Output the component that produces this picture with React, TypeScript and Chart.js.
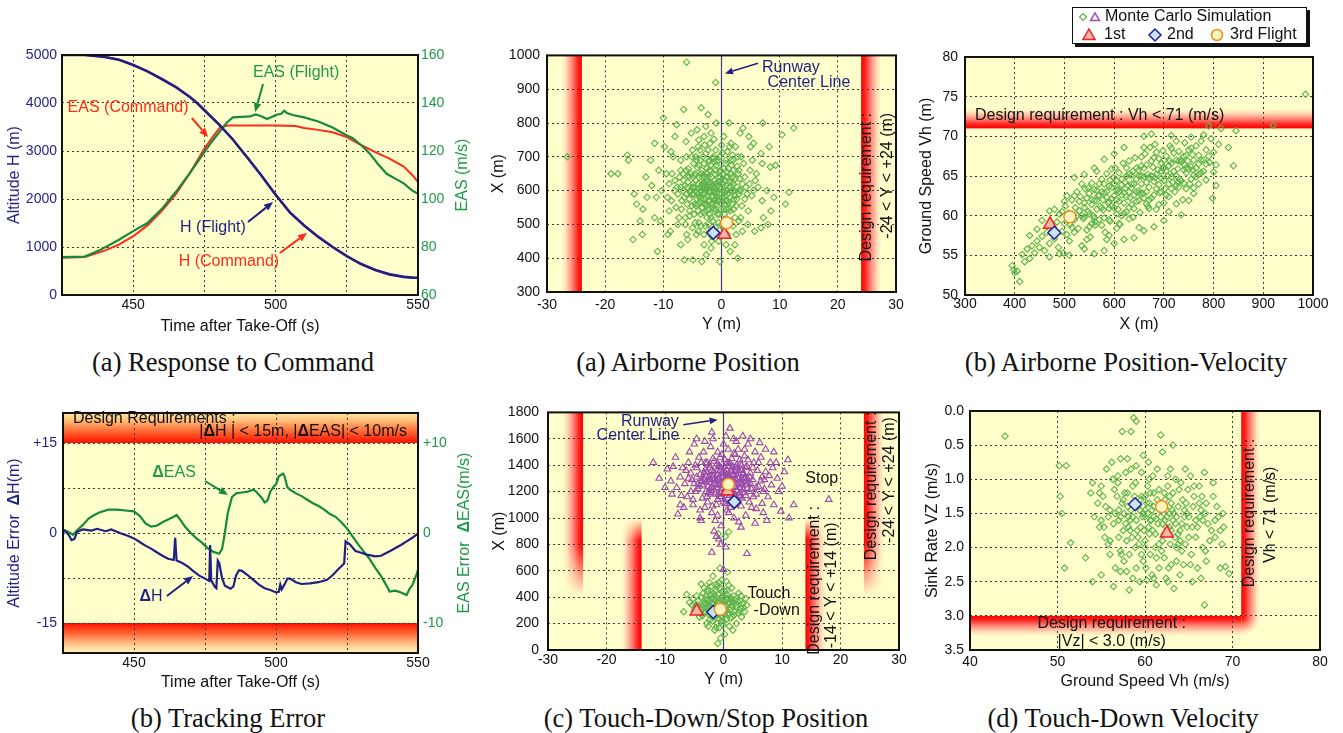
import React, { useEffect, useRef } from 'react';
import { Chart, registerables } from 'chart.js';
Chart.register(...registerables);

const SANS = '"Liberation Sans", Arial, Helvetica, sans-serif';
const SERIF = '"Liberation Serif", "Times New Roman", serif';
const BG = '#ffffcc';
const BG0 = 'rgba(255,255,204,0)';
const NAVY = '#1f1f85';
const LINE_GREEN = '#17893a';
const TXT_GREEN = '#1f9a48';
const RED = '#ff2a1a';
const MC_GREEN = '#5eb44c';
const MC_PURPLE = '#9a48ae';

// ---------- (a) Response to Command ----------
const RESP_T_H = [425, 433, 440, 445, 450, 455, 460, 465, 470, 472.4, 475, 480, 485, 488.2, 490, 495, 500, 501.2, 505, 510, 515, 520, 525, 530, 535, 540, 545, 548, 550];
const RESP_H_FLIGHT = [5000, 5000, 4960, 4900, 4790, 4660, 4500, 4330, 4120, 4000, 3850, 3560, 3240, 3000, 2870, 2490, 2090, 2000, 1720, 1450, 1210, 1000, 810, 645, 520, 430, 378, 362, 358];
const RESP_H_COMMAND = [5000, 5000, 4962, 4903, 4795, 4663, 4505, 4333, 4125, 4003, 3853, 3563, 3243, 3003, 2872, 2493, 2093, 2003, 1723, 1452, 1212, 1002, 812, 647, 522, 432, 380, 364, 360];
const RESP_T_EAS_CMD = [425, 433, 440, 445, 450, 455, 460, 465, 470, 475, 478, 480.5, 483, 490, 500, 507, 510, 515, 520, 525, 530, 535, 540, 545, 548, 550];
const RESP_EAS_CMD = [75.5, 75.8, 78.5, 81, 84.5, 89, 95, 102, 111, 121, 126, 129.8, 130.6, 130.6, 130.6, 130.4, 129.6, 128.8, 127.8, 125.8, 122.5, 119.5, 116.8, 113.5, 110, 107];
const RESP_T_EAS_FLT = [425, 433, 438, 445, 450, 455, 460, 465, 470, 475, 478, 481, 483, 485, 488, 491, 493, 495, 497, 499, 500, 502, 503, 504, 506, 510, 515, 520, 525, 527, 530, 533, 536, 539, 542, 545, 548, 550];
const RESP_EAS_FLT = [75.8, 76, 78.5, 83, 86.6, 90, 95.8, 103, 111, 119.5, 124.5, 129, 132, 134, 134.2, 134.4, 135.2, 134.5, 133.3, 134.4, 135, 135.5, 136.8, 135.8, 135, 134, 132.3, 129.8, 126.5, 125.4, 122.5, 119, 114.5, 110.5, 108.5, 106.5, 103.5, 102.2];

// ---------- (b) Tracking Error ----------
const ERR_T_H = [425, 426, 427, 428, 429, 430, 432, 435, 437, 440, 442, 445, 448, 450, 452, 454, 456, 458, 460, 462, 464, 464.5, 465, 467, 469, 471, 473, 475, 476.5, 476.8, 477.2, 478.5, 479, 479.5, 480, 481, 482, 484, 485, 486, 487, 488, 490, 492, 494, 496, 498, 500, 501, 501.5, 502, 503, 504, 505, 507, 509, 512, 515, 518, 520, 522, 524, 524.5, 526, 528, 530, 532, 535, 537, 539, 541, 544, 546, 548, 550];
const ERR_DH = [0.5, 0.2, -0.3, -1.2, -1.0, 0.2, 0.6, 0.4, 0.7, 0.3, 0.6, 0.0, -0.5, -0.9, -1.5, -2.1, -2.6, -3.2, -3.8, -4.3, -4.5, -0.8, -4.6, -5.0, -5.6, -6.4, -7.1, -7.6, -8.0, -2.0, -7.9, -9.0, -9.2, -4.6, -5.0, -7.5, -8.8, -9.3, -8.9, -7.0, -6.2, -6.3, -7.0, -7.8, -8.6, -9.2, -9.5, -9.9, -9.8, -8.6, -9.4, -8.6, -7.6, -7.6, -8.2, -8.5, -8.4, -8.2, -7.8, -7.0, -6.0, -5.1, -1.4, -1.9, -3.0, -3.3, -3.6, -3.9, -3.8, -3.3, -2.8, -2.0, -1.4, -0.8, -0.1];
const ERR_T_EAS = [425, 427, 428.5, 430, 432, 434, 436, 438, 441, 444, 447, 450, 452, 454, 456, 458, 460, 462, 464, 465, 466, 468, 470, 472, 474, 476, 478, 480, 481, 482, 483, 484.5, 486, 488, 490, 492, 493, 495, 496, 497, 498, 499, 500, 501, 502.5, 503, 504, 505, 507, 509, 511, 513, 515, 517, 519, 521, 523, 525, 527, 529, 531, 533, 535, 537, 539, 540, 542, 544, 546, 547, 548, 549.5, 550];
const ERR_DEAS = [0.4, 0.1, -0.2, 0.3, 0.9, 1.6, 2.0, 2.3, 2.6, 2.6, 2.5, 2.4, 1.9, 1.1, 0.7, 0.8, 1.2, 1.5, 1.8, 2.0, 1.6, 0.7, 0.0, -0.6, -1.1, -1.7, -2.1, -2.3, -1.8, 0.0, 2.2, 4.0, 4.4, 4.5, 4.6, 4.8, 4.6, 3.9, 3.4, 3.6, 4.6, 5.1, 5.4, 6.3, 6.6, 6.3, 5.1, 4.8, 4.4, 4.1, 3.7, 3.3, 3.0, 2.6, 2.1, 1.8, 1.2, 0.5, -0.4, -1.3, -2.1, -2.9, -3.9, -4.8, -5.9, -6.5, -6.4, -6.6, -6.9, -6.2, -5.8, -4.6, -4.1];

// ---------- Monte Carlo clouds: [lateral/x, value] ----------
const AIRBORNE_MC = [
  [-3.2, 612], [-1.5, 585], [0.8, 640], [-4.6, 560], [-2.1, 690], [1.9, 598], [-0.4, 530], [-5.8, 625], [2.7, 672], [-3.9, 505], [-1.1, 648], [0.2, 712], [-6.4, 580], [3.5, 555], [-2.6, 540], [-0.9, 605], [1.2, 565], [-4.1, 668], [-7.2, 640], [4.2, 610],
  [-2.9, 735], [0.5, 595], [-1.8, 520], [-5.1, 700], [2.3, 520], [-3.5, 575], [-0.2, 660], [1.6, 690], [-6.9, 545], [3.1, 635], [-1.3, 752], [-4.8, 610], [0.9, 545], [-2.4, 628], [-8.1, 600], [5.2, 585], [-3.0, 680], [-0.7, 570], [2.0, 620], [-5.5, 525],
  [-1.9, 660], [1.4, 730], [-4.3, 595], [-2.2, 500], [0.1, 580], [3.8, 680], [-6.1, 660], [-3.7, 720], [4.6, 540], [-0.5, 625], [-2.7, 560], [1.7, 650], [-7.6, 610], [-4.0, 540], [2.6, 575], [-1.4, 700], [0.3, 490], [-5.3, 650], [3.0, 600], [-2.0, 595],
  [-3.3, 640], [0.7, 680], [-6.6, 600], [5.8, 630], [-1.0, 545], [-4.4, 700], [2.1, 545], [-2.8, 610], [-0.1, 630], [1.0, 600], [-8.6, 570], [-3.6, 530], [4.9, 660], [-5.9, 560], [-1.6, 615], [0.4, 760], [-2.5, 665], [3.3, 520], [-4.9, 640], [-0.8, 685],
  [-7.0, 690], [1.9, 705], [-3.1, 590], [-1.2, 570], [2.9, 650], [-5.0, 590], [0.6, 515], [-2.3, 720], [4.0, 575], [-6.2, 520], [-9.5, 650], [-10.3, 600], [-11.2, 580], [-12.0, 615], [-9.0, 540], [-8.3, 700], [-10.8, 660], [-13.5, 545], [-12.8, 580], [-11.5, 520],
  [-14.6, 560], [-15.0, 590], [-13.0, 640], [-9.8, 730], [-8.0, 760], [-7.5, 500], [-8.8, 480], [-10.5, 510], [-15.2, 455], [-13.6, 470], [-11.0, 420], [-9.2, 470], [-7.0, 440], [-5.8, 455], [-4.3, 470], [-3.0, 440], [-1.7, 465], [-2.6, 410], [-4.9, 395], [-6.4, 395],
  [-3.4, 390], [-0.3, 390], [1.5, 420], [2.3, 440], [2.8, 400], [1.0, 470], [3.6, 480], [4.5, 500], [5.7, 480], [6.8, 490], [7.2, 520], [8.5, 540], [8.0, 500], [7.0, 570], [6.3, 610], [7.8, 600], [9.0, 580], [11.0, 560], [11.6, 595], [8.4, 670],
  [7.0, 680], [9.3, 675], [8.2, 730], [6.8, 710], [5.5, 740], [4.7, 760], [3.2, 770], [5.0, 730], [10.4, 765], [12.4, 785], [7.1, 800], [3.7, 785], [1.3, 800], [-0.9, 800], [-2.3, 825], [-3.5, 845], [-6.5, 840], [-10.0, 815], [-7.7, 795], [-5.2, 770],
  [-4.2, 780], [-2.7, 790], [-3.9, 750], [-6.1, 745], [-8.7, 715], [-16.0, 690], [-16.2, 705], [-17.8, 650], [-19.0, 650], [-26.5, 700], [-6.0, 980], [-1.0, 920], [-14.0, 510], [-12.2, 690], [-11.5, 740], [6.0, 650], [5.3, 690], [-0.5, 450], [0.8, 440], [-1.8, 430],
];
const AIRBORNE_MC_CORE = [
  [-2.0, 600], [-1.0, 620], [0.0, 590], [-3.0, 560], [1.0, 640], [-4.0, 620], [-2.5, 650], [-1.5, 560], [0.5, 610], [-3.5, 600], [1.5, 580], [-5.0, 610], [-0.5, 570], [-2.8, 590], [2.2, 600], [-4.5, 650], [-1.2, 630], [0.8, 570], [-3.8, 640], [-6.0, 590],
  [-2.2, 545], [-0.3, 655], [1.8, 625], [-4.2, 575], [-1.8, 675], [0.4, 545], [-3.2, 700], [2.5, 555], [-5.5, 575], [-0.8, 595], [-2.6, 615], [1.2, 665], [-4.7, 530], [-1.4, 600], [0.2, 620], [-3.4, 660], [3.0, 590], [-6.5, 630], [-2.0, 570], [-0.6, 640],
  [-1.6, 580], [0.9, 600], [-3.7, 610], [-2.3, 640], [1.4, 610], [-5.2, 600], [-0.2, 605], [-2.9, 625], [2.0, 660], [-4.0, 590], [-1.0, 590], [0.6, 630], [-3.0, 620], [-1.9, 610], [-0.9, 560], [1.9, 560], [-4.4, 555], [-2.5, 585], [0.0, 560], [-3.3, 550],
  [-6.8, 570], [-5.6, 640], [-7.5, 590], [3.6, 620], [4.4, 590], [2.8, 700], [-1.0, 720], [-2.0, 740], [-3.0, 760], [0.0, 735], [1.0, 715], [-4.0, 730], [-5.0, 720], [-6.0, 700], [2.0, 690], [3.0, 660], [4.0, 640], [-7.0, 660], [-8.0, 630], [-7.8, 550],
  [-6.2, 500], [-5.0, 490], [-4.0, 480], [-3.0, 470], [-2.0, 480], [-1.0, 490], [0.0, 500], [1.0, 505], [2.0, 495], [3.0, 510], [-2.5, 520], [-1.5, 510], [-0.5, 505], [0.5, 530], [1.5, 540], [-3.5, 495], [-4.5, 505], [-5.5, 540], [2.5, 470], [-6.0, 470],
  [-1.3, 685], [-0.4, 700], [0.8, 690], [-2.7, 710], [-3.6, 690], [1.6, 740], [-1.8, 770], [2.4, 730], [-4.8, 680], [-5.7, 665], [3.4, 700], [4.8, 620], [5.5, 600], [-9.0, 620], [-8.5, 650], [-9.3, 580], [-7.3, 520], [-0.7, 470], [-1.7, 450], [-2.8, 495],
];
const AIRBORNE_MC_CORE2 = [
  [-2.4, 605], [-1.1, 575], [0.3, 650], [-3.6, 585], [-0.6, 615], [1.1, 590], [-4.9, 620], [-2.1, 660], [-0.1, 545], [-3.1, 535], [0.9, 655], [-1.7, 640], [-4.1, 560], [1.6, 600], [-2.9, 575], [-0.4, 590], [-5.4, 595], [2.4, 635], [-1.4, 545], [-3.9, 675],
  [0.6, 560], [-2.2, 685], [-4.6, 645], [1.3, 545], [-0.9, 675], [-3.3, 620], [2.1, 575], [-5.9, 610], [-1.2, 610], [0.0, 620], [-2.6, 555], [-3.7, 565], [1.7, 675], [-4.3, 690], [-0.3, 575], [-1.9, 625], [2.7, 610], [-5.1, 555], [-2.0, 530], [0.4, 665],
  [-3.0, 645], [-1.5, 695], [0.8, 615], [-4.8, 590], [-2.7, 600], [1.9, 640], [-6.3, 615], [-0.7, 530], [-3.5, 650], [-1.0, 660], [2.3, 585], [-2.3, 570], [-4.4, 630], [0.2, 600], [-1.6, 550], [-5.7, 645], [3.3, 600], [-3.2, 605], [-0.5, 690], [1.4, 625],
  [-7.0, 610], [-6.6, 650], [-2.1, 620], [-1.3, 595], [-3.8, 580], [0.7, 585], [-2.8, 640], [-4.0, 605], [-0.2, 640], [1.0, 570],
];
const VELOCITY_MC = [
  [395, 53.7], [398, 53.2], [400, 52.8], [410, 51.7], [405, 53.0], [415, 55.1], [420, 54.2], [425, 55.8], [430, 54.6], [435, 56.2], [440, 55.3], [445, 56.8], [450, 56.0], [455, 57.4], [460, 55.6], [465, 57.9], [470, 56.5], [475, 58.5], [480, 57.1], [485, 59.2],
  [488, 56.0], [490, 60.2], [495, 58.0], [498, 55.3], [500, 59.0], [502, 61.2], [505, 57.6], [508, 60.3], [510, 56.8], [512, 58.9], [515, 62.0], [518, 59.7], [520, 57.9], [522, 61.0], [525, 63.0], [528, 58.4], [530, 60.6], [532, 62.4], [535, 56.2], [538, 59.6],
  [540, 61.6], [542, 63.4], [545, 58.2], [548, 60.5], [550, 62.8], [552, 57.3], [555, 64.1], [558, 60.0], [560, 61.9], [562, 58.8], [565, 63.2], [568, 62.5], [570, 59.5], [572, 61.2], [575, 64.6], [578, 60.7], [580, 62.9], [582, 57.9], [585, 65.3], [588, 61.6],
  [590, 63.7], [592, 59.3], [595, 62.1], [598, 64.8], [600, 61.0], [602, 66.0], [605, 60.2], [608, 63.3], [610, 65.4], [612, 58.9], [615, 62.6], [618, 66.6], [620, 61.6], [622, 64.2], [625, 60.5], [628, 63.8], [630, 66.9], [632, 62.3], [635, 65.1], [638, 59.8],
  [640, 64.0], [642, 67.3], [645, 61.8], [648, 65.7], [650, 63.1], [652, 60.4], [655, 66.3], [658, 62.8], [660, 64.9], [662, 67.8], [665, 61.5], [668, 65.2], [670, 63.6], [672, 68.6], [675, 62.2], [678, 66.1], [680, 64.3], [682, 69.0], [685, 60.8], [688, 65.8],
  [690, 67.2], [692, 62.9], [695, 64.7], [698, 68.2], [700, 66.0], [702, 63.4], [705, 67.5], [708, 65.0], [710, 62.4], [712, 68.8], [715, 66.6], [718, 64.2], [720, 67.9], [722, 63.0], [725, 69.4], [728, 65.9], [730, 68.1], [732, 64.6], [735, 66.8], [738, 62.0],
  [740, 67.5], [742, 69.2], [745, 65.4], [748, 66.9], [750, 68.3], [752, 64.0], [755, 66.2], [758, 67.7], [760, 65.1], [765, 68.8], [770, 66.5], [775, 69.4], [780, 67.0], [785, 68.3], [790, 71.3], [792, 66.7], [795, 69.7], [800, 68.0], [805, 66.4], [815, 71.0],
  [830, 68.6], [845, 70.7], [840, 66.3], [920, 71.4], [985, 75.3], [760, 62.8], [770, 64.0], [750, 61.9], [735, 60.1], [700, 59.4], [680, 58.6], [660, 58.1], [640, 57.2], [620, 57.0], [600, 56.5], [580, 55.6], [560, 55.2], [540, 55.8], [660, 70.0], [620, 68.6],
  [600, 67.8], [580, 67.1], [560, 66.0], [540, 65.2], [520, 64.8], [500, 61.8], [480, 60.8], [470, 60.6], [455, 59.4], [445, 58.3], [430, 57.5], [470, 54.8], [490, 55.2], [510, 55.0], [590, 57.5], [610, 59.0], [630, 59.6], [650, 58.5], [670, 60.9], [690, 61.4],
  [710, 60.5], [725, 61.5], [745, 63.4], [765, 64.9], [775, 65.4], [785, 64.5], [798, 62.2], [805, 63.8], [810, 69.0], [780, 70.2], [755, 69.9], [715, 70.1], [675, 70.3],
];
const VELOCITY_MC_CORE = [
  [520, 59.5], [530, 61.8], [540, 59.8], [545, 62.2], [550, 60.2], [555, 61.4], [560, 63.3], [565, 60.8], [570, 62.6], [575, 61.0], [580, 64.0], [585, 62.3], [590, 60.9], [595, 63.6], [600, 62.5], [605, 64.4], [610, 61.8], [615, 63.9], [620, 62.9], [625, 65.0],
  [630, 63.0], [635, 61.4], [640, 62.6], [645, 64.6], [650, 61.9], [655, 64.0], [660, 62.2], [665, 66.4], [670, 64.8], [675, 66.9], [680, 62.6], [685, 65.2], [690, 63.9], [695, 66.6], [700, 64.5], [705, 62.6], [710, 66.3], [715, 64.9], [720, 65.6], [725, 63.8],
  [730, 66.9], [735, 64.4], [740, 65.8], [745, 67.6], [750, 65.9], [755, 64.6], [760, 67.0], [765, 66.0], [770, 67.6], [780, 65.6], [560, 59.7], [575, 58.8], [590, 61.8], [605, 62.0], [620, 60.3], [635, 63.5], [650, 65.0], [665, 63.0], [680, 67.3], [695, 63.0],
  [710, 64.0], [725, 67.0], [740, 64.1], [755, 68.5], [770, 65.2], [785, 66.5], [800, 65.5], [520, 62.5], [535, 60.0], [550, 58.6], [565, 65.6], [580, 59.7], [595, 65.9], [610, 63.0], [625, 66.0], [640, 60.9], [655, 67.4], [670, 62.0], [685, 68.0], [700, 61.6],
  [715, 68.5], [730, 63.6], [745, 66.0], [760, 63.5], [775, 67.0], [790, 67.5], [495, 60.5], [505, 62.5], [515, 58.5], [525, 60.0], [535, 64.0], [545, 57.0], [555, 59.0], [570, 64.0], [585, 57.0], [600, 64.0], [615, 60.0], [630, 61.0], [645, 66.0], [660, 68.6],
];
const VELOCITY_MC_CORE2 = [
  [540, 61.0], [555, 62.0], [565, 61.9], [575, 63.0], [585, 63.0], [595, 61.2], [605, 63.2], [615, 64.6], [625, 62.4], [635, 64.0], [645, 63.0], [655, 65.0], [665, 64.2], [675, 65.0], [685, 63.4], [695, 65.6], [705, 65.6], [715, 63.4], [725, 65.0], [735, 67.0],
  [548, 63.5], [562, 59.2], [578, 62.0], [592, 64.5], [608, 60.8], [622, 63.4], [638, 65.6], [652, 62.8], [668, 61.2], [682, 64.8], [698, 66.0], [712, 66.9], [728, 64.2], [742, 66.4], [758, 65.8], [590, 59.5], [605, 58.4], [630, 65.2], [660, 66.0], [700, 67.0],
];
const TOUCHDOWN_MC = [
  [-1.0, 330], [-2.1, 350], [0.3, 310], [-1.6, 290], [0.9, 360], [-2.8, 320], [-0.4, 380], [-1.3, 260], [1.5, 330], [-3.4, 345], [0.1, 405], [-2.0, 395], [-0.8, 240], [1.9, 290], [-3.9, 300], [-1.7, 430], [0.6, 450], [-2.5, 270], [2.4, 370], [-0.2, 285],
  [-4.4, 370], [-1.1, 200], [1.2, 240], [-3.0, 410], [0.4, 340], [-2.3, 230], [2.9, 320], [-0.6, 470], [-1.9, 300], [1.7, 410], [-4.8, 330], [-0.9, 355], [0.8, 270], [-3.6, 260], [3.3, 350], [-1.4, 380], [-2.7, 440], [0.0, 215], [-0.3, 530], [-1.2, 500],
  [0.5, 520], [-2.2, 480], [-1.5, 150], [-0.7, 170], [0.2, 120], [-0.5, 90], [1.0, 180], [-2.9, 200], [-5.2, 390], [-5.8, 360], [-6.3, 420], [-5.0, 300], [-4.1, 250], [3.6, 290], [3.1, 250], [2.6, 430], [4.0, 340], [3.8, 390], [1.4, 470], [-3.3, 470],
  [-3.8, 500], [-6.8, 290], [-1.8, 560], [0.7, 590], [-0.6, 620], [2.2, 200], [1.6, 150], [-1.0, 50], [0.3, 860], [-0.9, 880], [0.9, 895], [-1.7, 350], [-0.5, 310], [0.1, 270], [-2.4, 365], [1.1, 305], [-3.1, 385], [-0.1, 345], [2.0, 350], [-1.5, 410],
  [-2.6, 295], [0.7, 390], [-1.2, 330], [-3.7, 320], [1.3, 380], [-0.8, 425], [-2.0, 255], [2.7, 300], [-4.5, 345], [0.5, 230], [-1.4, 275], [1.8, 265], [-2.9, 350], [-0.3, 440], [3.0, 410], [-3.5, 430], [-0.2, 370], [0.6, 300], [-1.1, 395], [1.4, 340],
  [-1.5, 320], [-0.5, 340], [0.5, 330], [-2.5, 330], [-1.0, 360], [-2.0, 310], [0.0, 300], [-1.2, 280], [-0.3, 400], [-2.8, 380], [1.0, 350], [-1.8, 250], [0.8, 280], [-3.2, 360], [-0.8, 310], [1.6, 360], [-2.2, 420], [-0.2, 250], [-1.6, 390], [0.3, 370],
  [-3.0, 290], [1.2, 400], [-2.4, 340], [-0.6, 360], [0.6, 420], [-1.4, 450], [-3.8, 400], [2.2, 330], [-0.9, 270], [-2.1, 270], [1.9, 380], [-4.2, 320], [0.1, 450], [-1.1, 480], [2.5, 280], [-3.3, 280], [-0.4, 220], [-1.9, 220], [1.5, 250], [-2.7, 460],
  [-5.4, 340], [-4.6, 410], [2.9, 370], [3.4, 320], [-0.7, 510], [-2.4, 510], [0.9, 490], [-1.3, 170], [-0.1, 190], [-2.6, 180],
];
const STOP_MC = [
  [1.0, 1270], [-1.5, 1300], [3.2, 1250], [-3.0, 1320], [0.2, 1200], [4.5, 1310], [-2.2, 1180], [2.1, 1380], [-4.4, 1260], [1.6, 1150], [5.6, 1230], [-0.8, 1400], [3.8, 1170], [-5.6, 1340], [0.5, 1330], [2.8, 1440], [-1.2, 1230], [6.4, 1280], [-3.6, 1150], [1.9, 1100],
  [-6.6, 1260], [4.0, 1390], [-0.3, 1480], [3.0, 1090], [-2.8, 1420], [7.2, 1350], [-4.8, 1200], [0.9, 1040], [5.1, 1160], [-1.9, 1090], [2.5, 1520], [-7.4, 1310], [6.0, 1420], [-3.4, 1500], [1.3, 1350], [8.2, 1250], [-0.6, 1160], [4.8, 1080], [-5.2, 1100], [2.2, 1210],
  [-8.0, 1230], [3.6, 1470], [-2.5, 1270], [7.6, 1160], [0.0, 1560], [-6.0, 1420], [5.4, 1500], [-1.0, 1020], [9.2, 1300], [-4.0, 1060], [1.7, 1600], [-9.0, 1280], [6.8, 1040], [-7.2, 1170], [4.2, 1560], [-3.2, 1580], [2.6, 970], [9.4, 1200], [-5.8, 1500], [8.0, 1420],
  [-0.4, 940], [3.3, 1620], [-8.6, 1390], [6.2, 1570], [-6.8, 1080], [10.4, 1350], [-2.0, 1650], [1.1, 1680], [-10.0, 1230], [11.0, 1440], [-4.6, 1600], [7.4, 980], [-1.6, 900], [3.0, 930], [5.4, 960], [-3.8, 980], [9.8, 1050], [-7.8, 1030], [8.6, 1500], [-9.6, 1370],
  [0.6, 1420], [2.0, 1300], [-1.0, 1360], [4.1, 1270], [-2.3, 1220], [1.4, 1190], [3.4, 1340], [-0.1, 1260], [5.0, 1380], [-3.6, 1280], [2.8, 1160], [-1.8, 1450], [0.3, 1110], [6.6, 1310], [-4.6, 1380], [1.8, 1490], [-0.9, 1180], [4.4, 1200], [-5.4, 1290], [3.1, 1400],
  [-2.7, 1120], [7.0, 1220], [0.7, 1300], [-1.3, 1250], [2.4, 1260], [1.3, 1230], [-0.2, 1340], [3.7, 1300], [-3.1, 1370], [0.8, 1150], [12.0, 1100], [11.2, 1000], [18.0, 1140], [-12.0, 1420], [-11.0, 1300], [-0.5, 800], [-1.2, 860], [0.4, 780], [4.0, 730], [-2.0, 740],
  [0.0, 610], [-0.8, 840],
];
const STOP_MC_CORE = [
  [0.0, 1280], [1.2, 1300], [-0.8, 1250], [2.0, 1240], [-1.8, 1320], [0.6, 1360], [3.0, 1290], [-2.6, 1240], [1.6, 1200], [-0.2, 1310], [2.6, 1340], [-3.4, 1300], [0.4, 1230], [4.0, 1250], [-1.4, 1280], [1.8, 1260], [-2.0, 1360], [3.4, 1220], [-0.6, 1200], [2.2, 1400],
  [-4.0, 1330], [0.8, 1390], [4.6, 1340], [-1.0, 1140], [1.0, 1170], [-3.0, 1200], [3.8, 1380], [-2.4, 1400], [0.2, 1440], [5.0, 1290], [-4.4, 1220], [2.4, 1130], [-1.6, 1430], [1.4, 1450], [-5.0, 1260], [5.8, 1360], [-3.8, 1420], [3.2, 1150], [-0.4, 1380], [6.0, 1240],
  [-5.6, 1200], [4.2, 1440], [-2.8, 1160], [0.0, 1120], [2.8, 1190], [-1.2, 1100], [1.2, 1080], [-3.2, 1080], [4.4, 1120], [-6.0, 1300], [6.8, 1200], [-4.2, 1460], [2.0, 1480], [-1.0, 1500], [0.8, 1520], [3.6, 1520], [-2.2, 1540], [5.2, 1420], [-6.4, 1360], [7.0, 1290],
  [-0.8, 1310], [1.6, 1330], [-2.4, 1290], [2.8, 1270], [-1.6, 1210], [0.4, 1270], [3.6, 1310], [-3.6, 1250], [1.0, 1420], [-0.6, 1460], [2.6, 1360], [4.8, 1220], [-4.8, 1400], [5.6, 1180], [-5.2, 1140], [6.4, 1460], [-6.2, 1160], [7.8, 1320], [-7.0, 1380], [8.4, 1380],
  [0.6, 1060], [-2.0, 1040], [3.8, 1020], [-4.0, 1000], [5.6, 1070], [-1.4, 980], [1.8, 1000], [6.6, 1110], [-7.4, 1100], [2.2, 1580], [-1.8, 1600], [0.4, 1620], [4.6, 1600], [-5.0, 1560], [7.2, 1520], [-8.2, 1460], [9.0, 1420], [-8.8, 1180], [8.6, 1100], [10.0, 1240],
];
const STOP_MC_CORE2 = [
  [0.5, 1290], [-0.5, 1270], [1.5, 1280], [-1.5, 1260], [2.5, 1300], [-2.5, 1310], [0.0, 1340], [1.0, 1240], [-1.0, 1330], [2.0, 1350], [-2.0, 1230], [3.0, 1260], [-3.0, 1270], [0.3, 1190], [1.3, 1370], [-0.7, 1390], [2.3, 1210], [-1.7, 1350], [3.3, 1330], [-3.3, 1340],
  [0.8, 1320], [-0.3, 1220], [1.8, 1320], [-1.3, 1190], [2.8, 1230], [-2.3, 1380], [3.8, 1280], [-3.8, 1280], [0.1, 1250], [1.1, 1210], [-0.9, 1290], [2.1, 1290], [-1.9, 1300], [3.1, 1360], [-2.9, 1350], [4.1, 1300], [-4.1, 1240], [0.6, 1170], [1.6, 1390], [-0.4, 1160],
  [2.6, 1170], [-2.6, 1190], [3.6, 1190], [4.6, 1260], [-4.6, 1310], [0.9, 1410], [-1.1, 1410], [2.9, 1410], [-3.1, 1420], [1.9, 1180],
];
const TD_VELOCITY_MC = [
  [61.0, 1.55], [59.2, 1.40], [62.8, 1.70], [57.5, 1.30], [64.5, 1.45], [60.0, 1.90], [63.2, 1.20], [56.4, 1.65], [65.8, 1.60], [58.6, 1.10], [61.9, 2.05], [55.2, 1.25], [66.9, 1.50], [60.5, 1.00], [63.8, 1.95], [57.0, 1.85], [62.3, 1.30], [59.8, 2.20], [64.9, 1.15], [56.0, 1.45],
  [67.6, 1.75], [58.1, 1.55], [61.4, 0.85], [65.3, 2.10], [54.6, 1.35], [60.8, 2.40], [63.5, 1.00], [57.8, 0.90], [66.2, 1.35], [59.5, 1.70], [62.0, 1.40], [55.8, 1.95], [64.0, 1.75], [58.9, 2.00], [61.6, 1.15], [68.2, 1.40], [56.9, 1.05], [60.2, 1.35], [63.0, 2.25], [57.3, 2.10],
  [65.0, 1.85], [59.0, 0.80], [62.6, 0.95], [55.0, 1.60], [66.6, 2.00], [58.3, 1.75], [61.2, 1.80], [64.3, 1.30], [60.7, 1.60], [57.6, 1.50], [63.6, 1.55], [59.6, 1.25], [62.4, 2.45], [56.6, 2.30], [65.6, 1.25], [58.0, 0.70], [60.4, 0.75], [53.8, 1.20], [67.2, 1.65], [54.2, 1.55],
  [55.6, 0.85], [56.2, 0.75], [57.2, 0.70], [58.4, 0.85], [59.6, 0.90], [62.0, 0.60], [63.2, 0.50], [61.8, 0.35], [58.4, 0.30], [58.7, 0.10], [59.0, 0.15], [57.4, 0.30], [44.0, 0.37], [50.2, 0.80], [51.0, 0.80], [50.3, 1.25], [50.5, 1.50], [51.5, 1.93], [50.8, 2.30], [53.2, 2.15],
  [54.0, 2.50], [55.0, 2.40], [56.4, 2.57], [57.2, 2.35], [58.2, 2.62], [59.4, 2.50], [60.2, 2.48], [61.0, 2.45], [62.6, 2.50], [64.0, 2.40], [65.4, 2.50], [66.4, 2.45], [66.8, 2.84], [68.6, 2.30], [69.2, 2.28], [69.6, 2.38], [68.0, 1.85], [68.8, 1.95], [67.8, 1.05], [66.8, 0.90],
  [65.2, 0.95], [64.6, 0.85], [65.6, 1.10], [69.0, 1.70], [68.4, 1.55], [67.0, 2.20], [66.0, 2.30], [63.6, 2.20], [62.2, 2.15], [60.6, 2.10], [59.0, 2.30], [57.6, 2.20], [56.0, 2.10], [55.4, 1.85], [54.8, 1.70], [54.0, 1.05], [55.0, 1.10], [60.0, 1.45], [61.4, 1.30], [62.8, 1.50],
  [58.6, 1.55], [60.4, 1.70], [64.8, 1.70], [63.0, 1.75], [59.2, 1.85], [57.0, 1.60], [66.4, 1.45], [61.6, 1.95], [58.0, 1.20], [63.8, 1.40], [60.6, 1.20], [62.2, 1.80],
];
const TD_VELOCITY_MC_CORE = [
  [60.0, 1.55], [61.5, 1.65], [59.0, 1.60], [62.5, 1.45], [58.0, 1.40], [63.5, 1.65], [57.0, 1.45], [64.5, 1.55], [60.5, 1.80], [62.0, 1.90], [59.5, 1.30], [61.0, 1.20], [58.5, 1.85], [63.0, 1.35], [57.5, 1.75], [64.0, 1.90], [60.0, 2.00], [61.8, 1.55], [59.8, 1.50], [62.8, 1.25],
  [56.8, 1.25], [65.5, 1.40], [58.8, 1.25], [60.8, 1.45], [62.0, 1.65], [63.4, 1.85], [57.8, 1.65], [66.0, 1.70], [59.3, 1.95], [61.3, 2.15], [64.2, 2.05], [55.8, 1.55], [58.2, 2.10], [65.0, 1.55], [60.3, 1.10], [62.6, 1.10], [56.5, 1.15], [66.6, 1.60], [67.4, 1.90], [64.7, 1.35],
  [61.0, 1.40], [59.9, 1.75], [63.2, 1.60], [58.4, 1.45], [60.6, 1.60], [62.3, 1.60], [57.2, 1.55], [65.8, 1.85], [66.5, 1.25], [63.9, 1.15], [55.5, 1.40], [54.8, 1.20], [68.0, 1.60], [67.0, 1.35], [56.0, 1.90], [59.6, 2.10], [61.6, 2.30], [63.6, 2.00], [65.2, 2.25], [57.2, 2.05],
  [58.9, 1.05], [60.9, 0.95], [62.9, 0.85], [64.1, 1.05], [56.3, 1.00], [55.3, 1.70], [66.2, 1.10], [67.8, 1.25], [68.6, 1.75], [57.9, 2.35], [60.1, 2.30], [62.7, 2.30], [64.4, 2.25], [66.9, 2.05], [58.6, 2.45], [61.3, 2.55], [63.3, 2.60], [59.8, 0.65], [56.9, 0.95], [68.9, 1.50],
];
const TD_VELOCITY_MC_CORE2 = [
  [60.3, 1.50], [61.3, 1.58], [59.4, 1.45], [62.4, 1.70], [58.3, 1.60], [63.3, 1.50], [57.4, 1.35], [64.2, 1.65], [60.9, 1.75], [61.9, 1.35], [59.1, 1.75], [62.9, 1.95], [57.9, 1.90], [63.8, 1.80], [60.0, 1.25], [61.2, 2.00], [58.9, 1.35], [62.2, 1.20], [64.8, 1.50], [56.6, 1.50],
  [65.4, 1.70], [59.7, 1.55], [61.7, 1.45], [63.1, 1.45], [58.1, 1.70], [60.5, 1.35], [62.5, 1.55], [57.7, 1.20], [64.6, 1.95], [66.3, 1.55],
];

// Flight results: [1st, 2nd, 3rd]
const AIRBORNE_FLIGHT_Y = [0.48, -1.41, 0.89];
const AIRBORNE_FLIGHT_X = [470, 475, 505];
const VELOCITY_FLIGHT_X = [471, 479.6, 511];
const VELOCITY_FLIGHT_VH = [58.9, 57.85, 59.87];
const TD_FLIGHT_Y = [-4.59, -1.75, -0.55];
const TD_FLIGHT_X = [294, 288, 309];
const STOP_FLIGHT_Y = [0.71, 1.84, 0.82];
const STOP_FLIGHT_X = [1205, 1122, 1255];
const TDV_FLIGHT_VH = [62.5, 58.86, 61.9];
const TDV_FLIGHT_VZ = [1.79, 1.366, 1.40];

// ---------- helpers ----------
const xy = (xs: number[], ys: number[]) => xs.map((x, i) => ({ x, y: ys[i] }));
const pr = (a: number[][]) => a.map(([x, y]) => ({ x, y }));

type Seg = string | { b: string };
const segText = (s: Seg) => (typeof s === 'string' ? s : s.b);

function drawRich(ctx: CanvasRenderingContext2D, segs: Seg[], x: number, y: number, align: string, rot: boolean, size: number, color: string) {
  ctx.save();
  ctx.translate(x, y);
  if (rot) ctx.rotate(-Math.PI / 2);
  ctx.fillStyle = color;
  ctx.textBaseline = 'middle';
  ctx.textAlign = 'left';
  const fonts = segs.map((s) => `${typeof s === 'string' ? '' : 'bold '}${size}px ${SANS}`);
  let total = 0;
  const ws = segs.map((s, i) => {
    ctx.font = fonts[i];
    const w = ctx.measureText(segText(s)).width;
    total += w;
    return w;
  });
  let cx = align === 'left' ? 0 : align === 'right' ? -total : -total / 2;
  segs.forEach((s, i) => {
    ctx.font = fonts[i];
    ctx.fillText(segText(s), cx, 0);
    cx += ws[i];
  });
  ctx.restore();
}

function drawArrowPx(ctx: CanvasRenderingContext2D, x1: number, y1: number, x2: number, y2: number, color: string, w: number, head: number) {
  const ang = Math.atan2(y2 - y1, x2 - x1);
  const bx = x2 - Math.cos(ang) * head;
  const by = y2 - Math.sin(ang) * head;
  ctx.save();
  ctx.strokeStyle = color;
  ctx.fillStyle = color;
  ctx.lineWidth = w;
  ctx.beginPath();
  ctx.moveTo(x1, y1);
  ctx.lineTo(bx, by);
  ctx.stroke();
  const hw = head * 0.42;
  ctx.beginPath();
  ctx.moveTo(x2, y2);
  ctx.lineTo(bx + Math.sin(ang) * hw, by - Math.cos(ang) * hw);
  ctx.lineTo(bx - Math.sin(ang) * hw, by + Math.cos(ang) * hw);
  ctx.closePath();
  ctx.fill();
  ctx.restore();
}

function mark(ctx: CanvasRenderingContext2D, kind: string, x: number, y: number, r: number, stroke: string, fill: string, lw: number) {
  ctx.save();
  ctx.beginPath();
  if (kind === 'diamond') {
    ctx.moveTo(x, y - r); ctx.lineTo(x + r, y); ctx.lineTo(x, y + r); ctx.lineTo(x - r, y); ctx.closePath();
  } else if (kind === 'triangle') {
    ctx.moveTo(x, y - r); ctx.lineTo(x + r * 0.866, y + r * 0.5); ctx.lineTo(x - r * 0.866, y + r * 0.5); ctx.closePath();
  } else {
    ctx.arc(x, y, r, 0, Math.PI * 2);
  }
  ctx.fillStyle = fill;
  ctx.fill();
  ctx.strokeStyle = stroke;
  ctx.lineWidth = lw;
  ctx.stroke();
  ctx.restore();
}

const VB: [number, string][] = [[0, 'rgb(255,0,0)'], [0.18, 'rgb(255,30,25)'], [0.5, 'rgb(255,140,125)'], [0.8, 'rgb(255,225,185)'], [1, BG]];
const TOPB: [number, string][] = [[0, 'rgb(255,15,0)'], [0.35, 'rgb(255,95,45)'], [0.75, 'rgb(255,190,120)'], [1, 'rgb(255,232,170)']];
const BOTB: [number, string][] = [[0, 'rgb(255,15,0)'], [0.3, 'rgb(255,90,45)'], [0.7, 'rgb(255,195,135)'], [1, 'rgb(255,245,195)']];

type Band = { x0: number; x1: number; y0: number; y1: number; red: string; stops: [number, string][]; fade?: { solid: number; clear: number } };
type Txt = { x: number; y: number; t: Seg[]; color?: string; align?: string; rot?: boolean; size?: number; axis?: string };
type Arrow = { x1: number; y1: number; x2: number; y2: number; color: string; w: number; head: number; axis?: string };
type Decor = {
  bands?: Band[];
  corner?: { x: number; y: number; dx: number; dy: number };
  texts?: Txt[];
  arrows?: Arrow[];
  sideTitles?: { x: number; t: Seg[]; color: string }[];
  legend?: boolean;
};

function decorPlugin(d: Decor) {
  return {
    id: 'decor',
    beforeDraw(chart: any) {
      const { ctx, chartArea: a } = chart;
      const xs = chart.scales.x;
      const ys = chart.scales.y;
      ctx.save();
      ctx.fillStyle = BG;
      ctx.fillRect(a.left, a.top, a.right - a.left, a.bottom - a.top);
      ctx.beginPath();
      ctx.rect(a.left, a.top, a.right - a.left, a.bottom - a.top);
      ctx.clip();
      for (const b of d.bands || []) {
        const px0 = xs.getPixelForValue(b.x0), px1 = xs.getPixelForValue(b.x1);
        const py0 = ys.getPixelForValue(b.y0), py1 = ys.getPixelForValue(b.y1);
        const L = Math.min(px0, px1), R = Math.max(px0, px1), T = Math.min(py0, py1), B = Math.max(py0, py1);
        let g: CanvasGradient;
        if (b.red === 'x0') g = ctx.createLinearGradient(px0, 0, px1, 0);
        else if (b.red === 'x1') g = ctx.createLinearGradient(px1, 0, px0, 0);
        else if (b.red === 'y0') g = ctx.createLinearGradient(0, py0, 0, py1);
        else g = ctx.createLinearGradient(0, py1, 0, py0);
        b.stops.forEach(([o, c]) => g.addColorStop(o, c));
        ctx.fillStyle = g;
        ctx.fillRect(L, T, R - L, B - T);
        if (b.fade) {
          const s = ys.getPixelForValue(b.fade.solid), c = ys.getPixelForValue(b.fade.clear);
          const g2 = ctx.createLinearGradient(0, s, 0, c);
          g2.addColorStop(0, BG0);
          g2.addColorStop(1, BG);
          ctx.fillStyle = g2;
          ctx.fillRect(L - 1, Math.min(s, c), R - L + 2, Math.abs(c - s) + 1);
        }
      }
      if (d.corner) {
        const c = d.corner;
        const cx = xs.getPixelForValue(c.x), cy = ys.getPixelForValue(c.y);
        const ex = xs.getPixelForValue(c.x + c.dx), ey = ys.getPixelForValue(c.y + c.dy);
        const r = (Math.abs(ex - cx) + Math.abs(ey - cy)) / 2;
        const g = ctx.createRadialGradient(cx, cy, 0, cx, cy, r);
        VB.forEach(([o, col]) => g.addColorStop(o, col));
        ctx.fillStyle = g;
        ctx.fillRect(Math.min(cx, ex), Math.min(cy, ey), Math.abs(ex - cx) + 1, Math.abs(ey - cy) + 1);
      }
      ctx.restore();
    },
    afterDatasetsDraw(chart: any) {
      const { ctx, chartArea: a } = chart;
      ctx.save();
      ctx.strokeStyle = '#111';
      ctx.lineWidth = 2;
      ctx.strokeRect(a.left, a.top, a.right - a.left, a.bottom - a.top);
      ctx.restore();
    },
    afterDraw(chart: any) {
      const { ctx, chartArea: a } = chart;
      const xs = chart.scales.x;
      for (const t of d.texts || []) {
        const ys = chart.scales[t.axis || 'y'];
        drawRich(ctx, t.t, xs.getPixelForValue(t.x), ys.getPixelForValue(t.y), t.align || 'center', !!t.rot, t.size || 16, t.color || '#111');
      }
      for (const ar of d.arrows || []) {
        const ys = chart.scales[ar.axis || 'y'];
        drawArrowPx(ctx, xs.getPixelForValue(ar.x1), ys.getPixelForValue(ar.y1), xs.getPixelForValue(ar.x2), ys.getPixelForValue(ar.y2), ar.color, ar.w, ar.head);
      }
      for (const st of d.sideTitles || []) {
        drawRich(ctx, st.t, st.x, (a.top + a.bottom) / 2, 'center', true, 16, st.color);
      }
      if (d.legend) {
        ctx.save();
        ctx.fillStyle = '#111';
        ctx.fillRect(165, 10, 235, 37);
        ctx.fillStyle = '#fff';
        ctx.fillRect(162, 7, 235, 37);
        ctx.strokeStyle = '#111';
        ctx.lineWidth = 1;
        ctx.strokeRect(162.5, 7.5, 234, 36);
        ctx.restore();
        mark(ctx, 'diamond', 173, 17, 3.5, MC_GREEN, 'rgba(0,0,0,0)', 1.2);
        mark(ctx, 'triangle', 185, 18, 5, MC_PURPLE, 'rgba(0,0,0,0)', 1.5);
        drawRich(ctx, ['Monte Carlo Simulation'], 195, 17, 'left', false, 16, '#111');
        mark(ctx, 'triangle', 179, 36, 7, '#ee2222', '#f5b5a8', 1.5);
        drawRich(ctx, ['1st'], 194, 35, 'left', false, 16, '#111');
        mark(ctx, 'diamond', 245, 35, 6, '#22229a', '#c8e4ee', 1.5);
        drawRich(ctx, ['2nd'], 257, 35, 'left', false, 16, '#111');
        mark(ctx, 'circle', 307, 35, 5.5, '#f08a20', '#fdf5c0', 1.5);
        drawRich(ctx, ['3rd Flight'], 320, 35, 'left', false, 16, '#111');
      }
    },
  };
}

type AxisSpec = {
  min: number; max: number; ticks: number[]; label?: (v: number) => string; title?: string; titleColor?: string;
  tickColor?: string; grid?: boolean; reverse?: boolean; pad: number; titlePad?: number; size: number;
};

function axis(s: AxisSpec, position: string, isX: boolean) {
  return {
    type: 'linear',
    position,
    min: s.min,
    max: s.max,
    reverse: !!s.reverse,
    afterBuildTicks: (sc: any) => { sc.ticks = s.ticks.map((v) => ({ value: v })); },
    afterFit: (sc: any) => { if (isX) sc.height = s.size; else sc.width = s.size; },
    ticks: {
      autoSkip: false, maxRotation: 0, minRotation: 0, padding: s.pad,
      color: s.tickColor || '#111', font: { family: SANS, size: 14 },
      callback: (v: number) => (s.label ? s.label(v) : String(v)),
    },
    grid: { display: s.grid !== false, color: '#3a3a3a', lineWidth: 1, drawTicks: false },
    border: { display: false, dash: [2, 3] },
    title: s.title
      ? { display: true, text: s.title, color: s.titleColor || '#111', font: { family: SANS, size: 16 }, padding: { top: s.titlePad || 0, bottom: s.titlePad || 0 } }
      : { display: false },
  };
}

const mc = (data: number[][], color: string, style: string, r: number) => ({
  data: pr(data), pointStyle: style, pointRadius: r, pointBorderWidth: 1.1, pointBorderColor: color,
  pointBackgroundColor: 'rgba(0,0,0,0)', showLine: false, order: 5,
});
const flights = (xs: number[], ys: number[]) => [
  { data: [{ x: xs[0], y: ys[0] }], pointStyle: 'triangle', pointRadius: 7.5, pointBorderWidth: 1.5, pointBorderColor: '#ee2222', pointBackgroundColor: '#f5b5a8', order: 2 },
  { data: [{ x: xs[1], y: ys[1] }], pointStyle: 'rectRot', pointRadius: 6.5, pointBorderWidth: 1.5, pointBorderColor: '#22229a', pointBackgroundColor: '#c8e4ee', order: 1 },
  { data: [{ x: xs[2], y: ys[2] }], pointStyle: 'circle', pointRadius: 6, pointBorderWidth: 1.5, pointBorderColor: '#f08a20', pointBackgroundColor: '#fdf5c0', order: 0 },
];
const lineDs = (xs: number[], ys: number[], color: string, w: number, order: number, yAxisID = 'y') => ({
  data: xy(xs, ys), showLine: true, borderColor: color, borderWidth: w, pointRadius: 0, tension: 0, order, yAxisID,
});

type Panel = {
  left: number; top: number; w: number; h: number; padTop: number; padRight: number;
  x: AxisSpec; y: AxisSpec; y1?: AxisSpec; datasets: any[]; decor: Decor;
};

function makeConfig(p: Panel): any {
  const scales: any = { x: axis(p.x, 'bottom', true), y: axis(p.y, 'left', false) };
  if (p.y1) scales.y1 = axis(p.y1, 'right', false);
  return {
    type: 'scatter',
    data: { datasets: p.datasets },
    options: {
      responsive: false, animation: false, events: [],
      layout: { padding: { top: p.padTop, right: p.padRight, left: 0, bottom: 0 } },
      plugins: { legend: { display: false }, tooltip: { enabled: false } },
      scales,
    },
    plugins: [decorPlugin(p.decor)],
  };
}

const every = (a: number, b: number, s: number) => { const r: number[] = []; for (let v = a; v <= b + 1e-9; v += s) r.push(Math.round(v * 100) / 100); return r; };

const timeTicks = [425, 450, 475, 500, 525, 550];
const timeLabel = (v: number) => (v === 450 || v === 500 || v === 550 ? String(v) : '');

// ---------- panels ----------
const P_RESP: Panel = {
  left: 0, top: 40, w: 480, h: 300, padTop: 15, padRight: 0,
  x: { min: 425, max: 550, ticks: timeTicks, label: timeLabel, title: 'Time after Take-Off (s)', pad: 2, titlePad: 3.4, size: 45 },
  y: { min: 0, max: 5000, ticks: every(0, 5000, 1000), title: 'Altitude H (m)', titleColor: NAVY, tickColor: NAVY, pad: 5, titlePad: 5.4, size: 62 },
  y1: { min: 60, max: 160, ticks: every(60, 160, 20), tickColor: TXT_GREEN, grid: false, pad: 3, size: 62 },
  datasets: [
    lineDs(RESP_T_H, RESP_H_FLIGHT, NAVY, 2.6, 0),
    lineDs(RESP_T_H, RESP_H_COMMAND, RED, 2, 3),
    lineDs(RESP_T_EAS_FLT, RESP_EAS_FLT, LINE_GREEN, 2.2, 1, 'y1'),
    lineDs(RESP_T_EAS_CMD, RESP_EAS_CMD, RED, 2, 2, 'y1'),
  ],
  decor: {
    texts: [
      { x: 507.2, y: 4625, t: ['EAS (Flight)'], color: TXT_GREEN },
      { x: 448.2, y: 3896, t: ['EAS (Command)'], color: RED },
      { x: 478, y: 1396, t: ['H (Flight)'], color: NAVY },
      { x: 483.6, y: 687, t: ['H (Command)'], color: RED },
    ],
    arrows: [
      { x1: 495.6, y1: 4396, x2: 492.8, y2: 3812, color: LINE_GREEN, w: 2, head: 9 },
      { x1: 470.6, y1: 3687, x2: 476.3, y2: 3291, color: RED, w: 2, head: 9 },
      { x1: 490.3, y1: 1521, x2: 499.1, y2: 1937, color: NAVY, w: 2, head: 9 },
      { x1: 501.5, y1: 875, x2: 511, y2: 1292, color: RED, w: 2, head: 9 },
    ],
    sideTitles: [{ x: 463, t: ['EAS (m/s)'], color: TXT_GREEN }],
  },
};

const P_AIRBORNE: Panel = {
  left: 480, top: 40, w: 430, h: 300, padTop: 15, padRight: 14,
  x: { min: -30, max: 30, ticks: every(-30, 30, 10), title: 'Y (m)', pad: 4.6, titlePad: 5.4, size: 48 },
  y: { min: 300, max: 1000, ticks: every(300, 1000, 100), title: 'X (m)', pad: 7, titlePad: 9.4, size: 67 },
  datasets: [
    ...flights(AIRBORNE_FLIGHT_Y, AIRBORNE_FLIGHT_X),
    mc(AIRBORNE_MC.concat(AIRBORNE_MC_CORE, AIRBORNE_MC_CORE2), MC_GREEN, 'rectRot', 3.2),
    { data: [{ x: 0, y: 300 }, { x: 0, y: 1000 }], showLine: true, borderColor: '#3b3b8f', borderWidth: 1.2, pointRadius: 0, order: 8 },
  ],
  decor: {
    bands: [
      { x0: -27.5, x1: -24, y0: 300, y1: 1000, red: 'x1', stops: VB },
      { x0: 24, x1: 27.5, y0: 300, y1: 1000, red: 'x0', stops: VB },
    ],
    texts: [
      { x: 11.94, y: 964.7, t: ['Runway'], color: NAVY },
      { x: 15.04, y: 920, t: ['Center Line'], color: NAVY },
      { x: 24.96, y: 610, t: ['Design requirement :'], rot: true },
      { x: 28.6, y: 644, t: ['-24 < Y < +24 (m)'], rot: true },
    ],
    arrows: [{ x1: 6.27, y1: 976.6, x2: 0.6, y2: 946.8, color: NAVY, w: 1.5, head: 8 }],
  },
};

const P_VELOCITY: Panel = {
  left: 910, top: 0, w: 433, h: 340, padTop: 57, padRight: 30,
  x: { min: 300, max: 1000, ticks: every(300, 1000, 100), title: 'X (m)', pad: 1, titlePad: 5.4, size: 45 },
  y: { min: 50, max: 80, ticks: every(50, 80, 5), title: 'Ground Speed Vh (m)', pad: 7, titlePad: 7.4, size: 55 },
  datasets: [
    ...flights(VELOCITY_FLIGHT_X, VELOCITY_FLIGHT_VH),
    mc(VELOCITY_MC.concat(VELOCITY_MC_CORE, VELOCITY_MC_CORE2), MC_GREEN, 'rectRot', 3.2),
  ],
  decor: {
    bands: [{ x0: 300, x1: 1000, y0: 71, y1: 73.5, red: 'y0', stops: VB }],
    texts: [{ x: 320, y: 72.6, t: ['Design requirement : Vh < 71 (m/s)'], align: 'left' }],
    legend: true,
  },
};

const P_ERROR: Panel = {
  left: 0, top: 395, w: 480, h: 300, padTop: 18, padRight: 0,
  x: { min: 425, max: 550, ticks: timeTicks, label: timeLabel, title: 'Time after Take-Off (s)', pad: 2, titlePad: 2.4, size: 42 },
  y: { min: -20, max: 20, ticks: [-20, -15, -7.5, 0, 7.5, 15, 20], label: (v) => (v === 15 ? '+15' : v === -15 ? '-15' : v === 0 ? '0' : ''), tickColor: NAVY, pad: 6, size: 63 },
  y1: { min: -13.333, max: 13.333, ticks: [-10, 0, 10], label: (v) => (v > 0 ? '+' + v : String(v)), tickColor: TXT_GREEN, grid: false, pad: 5, size: 62 },
  datasets: [
    lineDs(ERR_T_H, ERR_DH, NAVY, 2.2, 0),
    lineDs(ERR_T_EAS, ERR_DEAS, LINE_GREEN, 2.2, 1, 'y1'),
  ],
  decor: {
    bands: [
      { x0: 425, x1: 550, y0: 15, y1: 20, red: 'y0', stops: TOPB },
      { x0: 425, x1: 550, y0: -15, y1: -20, red: 'y0', stops: BOTB },
    ],
    texts: [
      { x: 428.5, y: 19, t: ['Design Requirements :'], align: 'left' },
      { x: 546.1, y: 16.9, t: ['|', { b: 'Δ' }, 'H | < 15m, |', { b: 'Δ' }, 'EAS| < 10m/s'], align: 'right' },
      { x: 464.1, y: 10, t: [{ b: 'Δ' }, 'EAS'], color: TXT_GREEN },
      { x: 456, y: -10.67, t: [{ b: 'Δ' }, 'H'], color: NAVY },
    ],
    arrows: [
      { x1: 475, y1: 8.67, x2: 483.1, y2: 6.33, color: LINE_GREEN, w: 2, head: 9 },
      { x1: 461.6, y1: -10.5, x2: 470.8, y2: -7.17, color: NAVY, w: 2, head: 9 },
    ],
    sideTitles: [
      { x: 15, t: ['Altitude Error  ', { b: 'Δ' }, 'H(m)'], color: NAVY },
      { x: 465, t: ['EAS Error  ', { b: 'Δ' }, 'EAS(m/s)'], color: TXT_GREEN },
    ],
  },
};

const P_TOUCHDOWN: Panel = {
  left: 480, top: 395, w: 430, h: 300, padTop: 16, padRight: 11,
  x: { min: -30, max: 30, ticks: every(-30, 30, 10), title: 'Y (m)', pad: 1.6, titlePad: 5.4, size: 45 },
  y: { min: 0, max: 1800, ticks: every(0, 1800, 200), title: 'X (m)', pad: 9, titlePad: 10.4, size: 68 },
  datasets: [
    ...flights(STOP_FLIGHT_Y, STOP_FLIGHT_X),
    ...flights(TD_FLIGHT_Y, TD_FLIGHT_X),
    mc(STOP_MC.concat(STOP_MC_CORE, STOP_MC_CORE2), MC_PURPLE, 'triangle', 3.8),
    mc(TOUCHDOWN_MC, MC_GREEN, 'rectRot', 3.2),
    { data: [{ x: 0, y: 0 }, { x: 0, y: 1800 }], showLine: true, borderColor: '#3b3b8f', borderWidth: 1.2, pointRadius: 0, order: 8 },
  ],
  decor: {
    bands: [
      { x0: -27.5, x1: -24, y0: 410, y1: 1800, red: 'x1', stops: VB, fade: { solid: 790, clear: 410 } },
      { x0: 24, x1: 27.5, y0: 410, y1: 1800, red: 'x0', stops: VB, fade: { solid: 820, clear: 410 } },
      { x0: -17.5, x1: -14, y0: 0, y1: 995, red: 'x1', stops: VB, fade: { solid: 830, clear: 995 } },
      { x0: 14, x1: 17.5, y0: 0, y1: 995, red: 'x0', stops: VB, fade: { solid: 840, clear: 995 } },
    ],
    texts: [
      { x: -12.57, y: 1727, t: ['Runway'], color: NAVY },
      { x: -14.62, y: 1627, t: ['Center Line'], color: NAVY },
      { x: 16.8, y: 1295, t: ['Stop'] },
      { x: 7.77, y: 427, t: ['Touch'] },
      { x: 9.09, y: 301, t: ['-Down'] },
      { x: 15.63, y: 527, t: ['Design requirement :'], rot: true },
      { x: 18.48, y: 490, t: ['-14 < Y < +14 (m)'], rot: true },
      { x: 25.3, y: 1243, t: ['Design requirement :'], rot: true },
      { x: 28.4, y: 1288, t: ['-24 < Y < +24 (m)'], rot: true },
    ],
    arrows: [{ x1: -6.87, y1: 1707, x2: -1.0, y2: 1745, color: NAVY, w: 1.5, head: 8 }],
  },
};

const P_TDVEL: Panel = {
  left: 910, top: 395, w: 433, h: 300, padTop: 16, padRight: 23,
  x: { min: 40, max: 80, ticks: every(40, 80, 10), title: 'Ground Speed Vh (m/s)', pad: 3.3, titlePad: 3.4, size: 45 },
  y: { min: 0, max: 3.5, ticks: every(0, 3.5, 0.5), label: (v) => v.toFixed(1), reverse: true, title: 'Sink Rate VZ (m/s)', pad: 6, titlePad: 13.4, size: 60 },
  datasets: [
    ...flights(TDV_FLIGHT_VH, TDV_FLIGHT_VZ),
    mc(TD_VELOCITY_MC.concat(TD_VELOCITY_MC_CORE, TD_VELOCITY_MC_CORE2), MC_GREEN, 'rectRot', 3.2),
  ],
  decor: {
    bands: [
      { x0: 71, x1: 73.2, y0: 0, y1: 3.0, red: 'x0', stops: VB },
      { x0: 40, x1: 71, y0: 3.0, y1: 3.3, red: 'y0', stops: VB },
    ],
    corner: { x: 71, y: 3.0, dx: 2.2, dy: 0.3 },
    texts: [
      { x: 56.2, y: 3.108, t: ['Design requirement :'] },
      { x: 56.2, y: 3.377, t: ['|Vz| < 3.0 (m/s)'] },
      { x: 72, y: 1.493, t: ['Design requirement :'], rot: true },
      { x: 74.3, y: 1.52, t: ['Vh < 71 (m/s)'], rot: true },
    ],
  },
};

const PANELS = [P_RESP, P_AIRBORNE, P_VELOCITY, P_ERROR, P_TOUCHDOWN, P_TDVEL];

const CAPTIONS = [
  { text: '(a) Response to Command', cx: 233, cy: 362 },
  { text: '(a) Airborne Position', cx: 688, cy: 362 },
  { text: '(b) Airborne Position-Velocity', cx: 1126, cy: 362 },
  { text: '(b) Tracking Error', cx: 228, cy: 718 },
  { text: '(c) Touch-Down/Stop Position', cx: 706, cy: 718 },
  { text: '(d) Touch-Down Velocity', cx: 1123, cy: 718 },
];

function PanelChart({ p }: { p: Panel }) {
  const ref = useRef<HTMLCanvasElement>(null);
  useEffect(() => {
    const chart = new Chart(ref.current as HTMLCanvasElement, makeConfig(p));
    return () => chart.destroy();
  }, []);
  return (
    <canvas
      ref={ref}
      width={p.w}
      height={p.h}
      style={{ position: 'absolute', left: p.left, top: p.top, width: p.w, height: p.h }}
    />
  );
}

export default function App() {
  return (
    <div style={{ position: 'absolute', left: 0, top: 0, width: 1343, height: 733, background: '#fff', overflow: 'hidden' }}>
      {PANELS.map((p, i) => (
        <PanelChart key={i} p={p} />
      ))}
      {CAPTIONS.map((c, i) => (
        <div
          key={'c' + i}
          style={{
            position: 'absolute', left: c.cx - 250, top: c.cy - 15, width: 500, height: 30, lineHeight: '30px',
            textAlign: 'center', fontFamily: SERIF, fontSize: 26.5, color: '#111', whiteSpace: 'nowrap',
          }}
        >
          {c.text}
        </div>
      ))}
    </div>
  );
}
